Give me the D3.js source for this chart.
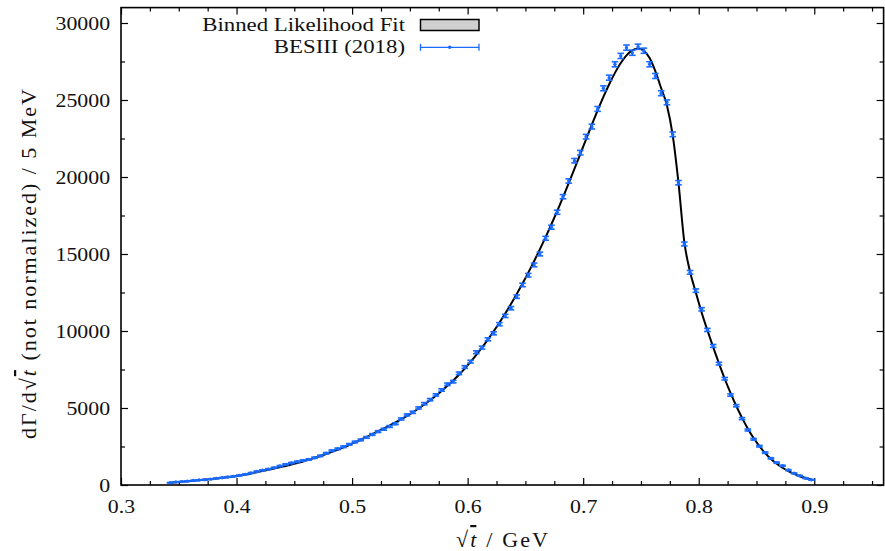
<!DOCTYPE html>
<html><head><meta charset="utf-8">
<script src="https://cdn.jsdelivr.net/npm/d3@7"></script>
<style>
body{margin:0;background:#fff}
svg{display:block}
text{font-family:"Liberation Serif","Times New Roman",serif;fill:#111}
</style>
</head><body>
<svg id="c" width="885" height="551"></svg>
<script>
// ---- data ----
const binCenters = [
0.3425,0.3475,0.3525,0.3575,0.3625,0.3675,0.3725,0.3775,0.3825,0.3875,
0.3925,0.3975,0.4025,0.4075,0.4125,0.4175,0.4225,0.4275,0.4325,0.4375,
0.4425,0.4475,0.4525,0.4575,0.4625,0.4675,0.4725,0.4775,0.4825,0.4875,
0.4925,0.4975,0.5025,0.5075,0.5125,0.5175,0.5225,0.5275,0.5325,0.5375,
0.5425,0.5475,0.5525,0.5575,0.5625,0.5675,0.5725,0.5775,0.5825,0.5875,
0.5925,0.5975,0.6025,0.6075,0.6125,0.6175,0.6225,0.6275,0.6325,0.6375,
0.6425,0.6475,0.6525,0.6575,0.6625,0.6675,0.6725,0.6775,0.6825,0.6875,
0.6925,0.6975,0.7025,0.7075,0.7125,0.7175,0.7225,0.7275,0.7325,0.7375,
0.7425,0.7475,0.7525,0.7575,0.7625,0.7675,0.7725,0.7775,0.7825,0.7875,
0.7925,0.7975,0.8025,0.8075,0.8125,0.8175,0.8225,0.8275,0.8325,0.8375,
0.8425,0.8475,0.8525,0.8575,0.8625,0.8675,0.8725,0.8775,0.8825,0.8875,
0.8925,0.8975];

const besiiiCounts = [
150,190,220,250,290,320,340,380,430,470,
520,560,620,690,780,880,960,1030,1120,1230,
1340,1430,1510,1590,1660,1770,1890,2060,2230,2350,
2480,2640,2790,2930,3090,3280,3470,3620,3800,3980,
4290,4550,4720,5000,5280,5540,5850,6170,6540,6710,
7250,7660,8010,8620,8920,9460,9850,10440,10980,11480,
12230,12990,13620,14290,15000,16020,16740,17710,18720,19740,
21060,21580,22620,23270,24420,25760,26450,27320,27860,28400,
28070,28460,28200,27320,26560,25440,24850,22770,19630,15650,
13810,12620,11410,10070,9030,7880,6900,5840,5150,4310,
3570,2970,2520,2100,1730,1450,1250,970,760,600,
440,340];

const besiiiErrors = [
12,14,15,16,17,18,18,19,21,22,
23,24,25,26,28,30,31,32,33,35,
37,38,39,40,41,42,43,45,47,48,
50,51,53,54,56,57,59,60,62,63,
65,67,69,71,73,74,76,79,81,82,
85,88,89,93,94,97,99,102,105,107,
111,114,117,120,122,127,129,133,137,140,
145,147,150,153,156,160,163,165,167,169,
168,169,168,165,163,160,158,151,140,125,
118,112,107,100,95,89,83,76,72,66,
60,54,50,46,42,38,35,31,28,24,
21,18];

const fitValues = [
150,180,210,245,280,315,350,385,425,465,
510,560,615,680,750,830,910,990,1070,1150,
1240,1330,1430,1530,1640,1760,1880,2010,2150,2290,
2440,2600,2770,2940,3120,3300,3490,3680,3860,4060,
4270,4490,4720,4970,5230,5510,5800,6110,6440,6790,
7160,7560,7990,8450,8930,9440,9980,10540,11130,11750,
12400,13080,13790,14530,15300,16100,16930,17790,18680,19600,
20540,21490,22450,23400,24320,25200,26020,26760,27400,27900,
28220,28340,28200,27720,26860,25760,24650,22700,19600,15800,
13850,12500,11200,10050,8950,7900,6900,5980,5130,4360,
3660,3050,2520,2070,1690,1380,1120,900,720,570,
450,350];

const xTickValues = [0.3,0.4,0.5,0.6,0.7,0.8,0.9];
const yTickValues = [0,5000,10000,15000,20000,25000,30000];
const legendLabels = ["Binned Likelihood Fit","BESIII (2018)"];

// ---- drawing ----
const svg = d3.select("#c");
const X0=121, X1=883.6, Y0=485, Y1=7.6;
const x = d3.scaleLinear().domain([0.3,0.96]).range([X0,X1]);
const y = d3.scaleLinear().domain([0,31000]).range([Y0,Y1]);
const blue = "#1a6bff";
const FS = 19.5, SX = 1.12;

const xMinor = d3.range(0.3,0.9601,0.025).filter(v=>!xTickValues.some(t=>Math.abs(t-v)<1e-6));
const yMinor = d3.range(0,31001,2500).filter(v=>v%5000!==0);

function styleAxis(g){
  g.select(".domain").remove();
  g.selectAll(".tick line").attr("stroke","#000").attr("stroke-width",1.2);
  g.selectAll("text").attr("font-size",FS).attr("fill","#111")
   .attr("transform",`scale(${SX},1)`)
   .style("font-family",'"Liberation Serif","Times New Roman",serif');
}
// bottom
svg.append("g").attr("transform",`translate(0,${Y0})`)
  .call(d3.axisBottom(x).tickValues(xTickValues).tickFormat(d3.format(".1f")).tickSize(-7).tickSizeOuter(0).tickPadding(14))
  .call(styleAxis);
svg.append("g").attr("transform",`translate(0,${Y0})`)
  .call(d3.axisBottom(x).tickValues(xMinor).tickFormat("").tickSize(-4).tickSizeOuter(0)).call(styleAxis);
// top
svg.append("g").attr("transform",`translate(0,${Y1})`)
  .call(d3.axisTop(x).tickValues(xTickValues).tickFormat("").tickSize(-7).tickSizeOuter(0)).call(styleAxis);
svg.append("g").attr("transform",`translate(0,${Y1})`)
  .call(d3.axisTop(x).tickValues(xMinor).tickFormat("").tickSize(-4).tickSizeOuter(0)).call(styleAxis);
// left
svg.append("g").attr("transform",`translate(${X0},0)`)
  .call(d3.axisLeft(y).tickValues(yTickValues).tickFormat(d3.format("d")).tickSize(-7).tickSizeOuter(0).tickPadding(9.8))
  .call(styleAxis);
svg.append("g").attr("transform",`translate(${X0},0)`)
  .call(d3.axisLeft(y).tickValues(yMinor).tickFormat("").tickSize(-4).tickSizeOuter(0)).call(styleAxis);
// right
svg.append("g").attr("transform",`translate(${X1},0)`)
  .call(d3.axisRight(y).tickValues(yTickValues).tickFormat("").tickSize(-7).tickSizeOuter(0)).call(styleAxis);
svg.append("g").attr("transform",`translate(${X1},0)`)
  .call(d3.axisRight(y).tickValues(yMinor).tickFormat("").tickSize(-4).tickSizeOuter(0)).call(styleAxis);

// frame
svg.append("rect").attr("x",X0).attr("y",Y1).attr("width",X1-X0).attr("height",Y0-Y1)
  .attr("fill","none").attr("stroke","#000").attr("stroke-width",1.6);

// fit
const fitData = binCenters.map((c,i)=>({x:c,v:fitValues[i]}));
svg.append("path").datum(fitData)
  .attr("d",d3.line().x(d=>x(d.x)).y(d=>y(d.v)).curve(d3.curveMonotoneX))
  .attr("fill","none").attr("stroke","#000").attr("stroke-width",2);

// data with error bars
const pts = binCenters.map((c,i)=>({x:c,v:besiiiCounts[i],e:besiiiErrors[i]}));
const g = svg.append("g").attr("stroke",blue).attr("stroke-width",1.6);
const cap = 3.3;
const pg = g.selectAll("g.pt").data(pts).join("g").attr("class","pt");
pg.append("line").attr("x1",d=>x(d.x)).attr("x2",d=>x(d.x)).attr("y1",d=>y(d.v-d.e)).attr("y2",d=>y(d.v+d.e));
pg.append("line").attr("x1",d=>x(d.x)-cap).attr("x2",d=>x(d.x)+cap).attr("y1",d=>y(d.v-d.e)).attr("y2",d=>y(d.v-d.e));
pg.append("line").attr("x1",d=>x(d.x)-cap).attr("x2",d=>x(d.x)+cap).attr("y1",d=>y(d.v+d.e)).attr("y2",d=>y(d.v+d.e));
pg.append("circle").attr("cx",d=>x(d.x)).attr("cy",d=>y(d.v)).attr("r",1.7).attr("fill",blue).attr("stroke","none");

// legend
const lg = svg.append("g");
lg.append("text").attr("transform","translate(405,31) scale(1.17,1)").attr("text-anchor","end").attr("font-size",FS).text(legendLabels[0]);
lg.append("rect").attr("x",420.5).attr("y",19.5).attr("width",58.5).attr("height",11)
  .attr("fill","#d0d0d0").attr("stroke","#000").attr("stroke-width",1.5);
lg.append("text").attr("transform","translate(405,53) scale(1.17,1)").attr("text-anchor","end").attr("font-size",FS).text(legendLabels[1]);
const ly = 47.3;
lg.append("line").attr("x1",420.5).attr("x2",479).attr("y1",ly).attr("y2",ly).attr("stroke",blue).attr("stroke-width",1.3);
lg.append("line").attr("x1",420.5).attr("x2",420.5).attr("y1",ly-3.5).attr("y2",ly+3.5).attr("stroke",blue).attr("stroke-width",1.3);
lg.append("line").attr("x1",479).attr("x2",479).attr("y1",ly-3.5).attr("y2",ly+3.5).attr("stroke",blue).attr("stroke-width",1.3);
lg.append("circle").attr("cx",449.7).attr("cy",ly).attr("r",1.8).attr("fill",blue);

// x label
const xl = svg.append("text").attr("x",502).attr("y",547).attr("text-anchor","middle").attr("font-size",22)
  .attr("textLength",92).attr("lengthAdjust","spacing");
xl.append("tspan").text("√");
xl.append("tspan").attr("font-style","italic").style("text-decoration","overline").text("t");
xl.append("tspan").text(" / GeV");

// y label
const yl = svg.append("text").attr("transform","translate(36,264) rotate(-90)").attr("text-anchor","middle").attr("font-size",22)
  .attr("textLength",350).attr("lengthAdjust","spacing");
yl.append("tspan").text("dΓ/d√");
yl.append("tspan").attr("font-style","italic").style("text-decoration","overline").text("t");
yl.append("tspan").text(" (not normalized) / 5 MeV");
</script>
</body></html>
